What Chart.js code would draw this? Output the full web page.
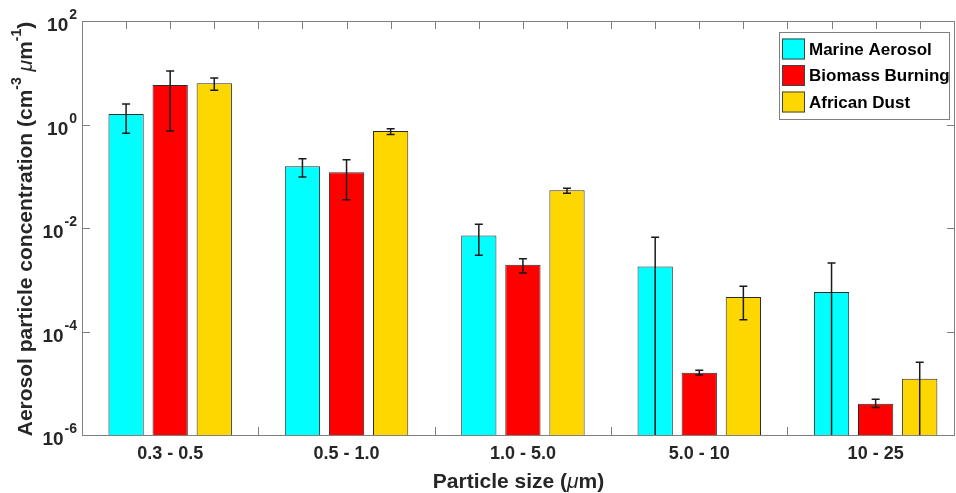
<!DOCTYPE html>
<html>
<head>
<meta charset="utf-8">
<script src="https://cdn.jsdelivr.net/npm/chart.js@4.4.1/dist/chart.umd.min.js"></script>
<style>
    body { margin: 0; background: #fff; }
    canvas { display: block; }
</style>
</head>
<body>
<canvas id="aerosolChart" width="956" height="493"></canvas>
<script>
// Categories and series
const categories = ["0.3 - 0.5", "0.5 - 1.0", "1.0 - 5.0", "5.0 - 10", "10 - 25"];
const seriesNames = ["Marine Aerosol", "Biomass Burning", "African Dust"];
const seriesColors = ["#00ffff", "#ff0000", "#ffd700"];

// Bar heights (cm^-3 um^-1)
const marine = [1.6, 0.156, 0.0072, 0.0018, 0.00058];
const biomass = [5.8, 0.119, 0.00195, 0.000016, 0.000004];
const dust = [6.3, 0.75, 0.0535, 0.000465, 0.0000122];

// Error bar ends (0 = runs off the bottom of the log axis)
const marineUpper = [2.49, 0.219, 0.0118, 0.0066, 0.0021];
const marineLower = [0.676, 0.097, 0.00296, 0, 0];
const biomassUpper = [10.8, 0.209, 0.00255, 0.0000178, 0.0000049];
const biomassLower = [0.75, 0.035, 0.00135, 0.0000145, 0.0000034];
const dustUpper = [7.9, 0.83, 0.0585, 0.00075, 0.0000254];
const dustLower = [4.6, 0.64, 0.047, 0.000169, 0];

// Axis ticks
const yTickPowers = [-6, -4, -2, 0, 2];
const yMin = 1e-6;
const yMax = 1e2;

// Each group has 3 bar slots and one empty slot
const slotsPerGroup = 4;
const xMax = 19.8;

const values = [marine, biomass, dust];
const uppers = [marineUpper, biomassUpper, dustUpper];
const lowers = [marineLower, biomassLower, dustLower];

const textColor = "#262626";
const axisColor = "#7f7f7f";
const fontName = "'Liberation Sans', Arial, sans-serif";

function slotData(vals, offset) {
    return vals.map((v, i) => ({ x: i * slotsPerGroup + offset, y: v }));
}

// Error bars
const errorBarPlugin = {
    id: "errorBars",
    afterDatasetsDraw(chart) {
        const ctx = chart.ctx;
        const yScale = chart.scales.y;
        const area = chart.chartArea;
        ctx.save();
        ctx.strokeStyle = "#1a1a1a";
        ctx.lineWidth = 1.5;
        values.forEach((vals, d) => {
            const meta = chart.getDatasetMeta(d);
            meta.data.forEach((bar, i) => {
                const x = bar.x;
                const yTop = yScale.getPixelForValue(uppers[d][i]);
                const low = lowers[d][i];
                const yBot = low > 0 ? yScale.getPixelForValue(low) : area.bottom;
                ctx.beginPath();
                ctx.moveTo(x, yTop);
                ctx.lineTo(x, yBot);
                ctx.moveTo(x - 4, yTop);
                ctx.lineTo(x + 4, yTop);
                if (low > 0) {
                    ctx.moveTo(x - 4, yBot);
                    ctx.lineTo(x + 4, yBot);
                }
                ctx.stroke();
            });
        });
        ctx.restore();
    },
};

// Axes box, inward ticks, labels, titles and legend (MATLAB look)
const axesPlugin = {
    id: "matlabAxes",
    beforeDatasetsDraw(chart) {
        const ctx = chart.ctx;
        const { left, right, top, bottom } = chart.chartArea;
        const xScale = chart.scales.x;
        const yScale = chart.scales.y;
        ctx.save();
        ctx.strokeStyle = axisColor;
        ctx.lineWidth = 1;
        ctx.beginPath();
        for (let s = 1; s < xMax; s++) {
            const x = Math.round(xScale.getPixelForValue(s)) + 0.5;
            ctx.moveTo(x, top);
            ctx.lineTo(x, top + 8);
            ctx.moveTo(x, bottom);
            ctx.lineTo(x, bottom - 8);
        }
        yTickPowers.forEach((p) => {
            const y = Math.round(yScale.getPixelForValue(Math.pow(10, p))) + 0.5;
            ctx.moveTo(left, y);
            ctx.lineTo(left + 8, y);
            ctx.moveTo(right, y);
            ctx.lineTo(right - 8, y);
        });
        ctx.stroke();
        ctx.restore();
    },
    afterDraw(chart) {
        const ctx = chart.ctx;
        const { left, right, top, bottom } = chart.chartArea;
        const xScale = chart.scales.x;
        const yScale = chart.scales.y;
        ctx.save();

        // box
        ctx.strokeStyle = axisColor;
        ctx.lineWidth = 1;
        ctx.strokeRect(Math.round(left) + 0.5, Math.round(top) + 0.5, Math.round(right - left) - 1, Math.round(bottom - top));

        ctx.fillStyle = textColor;

        // y tick labels 10^p
        yTickPowers.forEach((p) => {
            const y = yScale.getPixelForValue(Math.pow(10, p));
            const exp = String(p);
            ctx.font = "bold 14px " + fontName;
            const expW = ctx.measureText(exp).width;
            const xEnd = left - 5;
            ctx.textAlign = "right";
            ctx.textBaseline = "alphabetic";
            ctx.fillText(exp, xEnd, y - 2);
            ctx.font = "bold 19px " + fontName;
            ctx.fillText("10", xEnd - expW - 1, y + 10);
        });

        // x category labels
        ctx.font = "bold 18px " + fontName;
        ctx.textAlign = "center";
        ctx.textBaseline = "middle";
        categories.forEach((c, i) => {
            const x = xScale.getPixelForValue(i * slotsPerGroup + 2);
            ctx.fillText(c, x, bottom + 19);
        });

        // x title: Particle size (um)
        drawRich(ctx, [
            { t: "Particle size (", f: "bold 21px " + fontName },
            { t: "\u03bc", f: "italic 21px " + fontName },
            { t: "m)", f: "bold 21px " + fontName },
        ], (left + right) / 2, 482);

        // y title, rotated
        ctx.save();
        ctx.translate(26, (top + bottom) / 2 + 1);
        ctx.rotate(-Math.PI / 2);
        drawRich(ctx, [
            { t: "Aerosol particle concentration (cm", f: "bold 21px " + fontName },
            { t: "-3", f: "bold 14px " + fontName, dy: -9 },
            { t: " ", f: "bold 21px " + fontName },
            { t: "\u03bc", f: "italic 21px " + fontName },
            { t: "m", f: "bold 21px " + fontName },
            { t: "-1", f: "bold 14px " + fontName, dy: -9 },
            { t: ")", f: "bold 21px " + fontName },
        ], 0, 0);
        ctx.restore();

        // legend box
        const lx = 779, ly = 32, lw = 170, lh = 87;
        ctx.fillStyle = "#fff";
        ctx.fillRect(lx, ly, lw, lh);
        ctx.strokeStyle = axisColor;
        ctx.strokeRect(lx + 0.5, ly + 0.5, lw, lh);
        seriesNames.forEach((name, i) => {
            const rowY = ly + 17 + i * 26.5;
            ctx.fillStyle = seriesColors[i];
            ctx.fillRect(lx + 3, rowY - 10.5, 23, 21);
            ctx.strokeStyle = "#444";
            ctx.strokeRect(lx + 3.5, rowY - 10, 22, 20);
            ctx.fillStyle = "#000";
            ctx.font = "bold 17px " + fontName;
            ctx.textAlign = "left";
            ctx.textBaseline = "middle";
            ctx.fillText(name, lx + 30, rowY + 1);
        });

        ctx.restore();
    },
};

// Draws runs of text centred on (cx, cy)
function drawRich(ctx, parts, cx, cy) {
    let total = 0;
    parts.forEach((p) => {
        ctx.font = p.f;
        p.w = ctx.measureText(p.t).width;
        total += p.w;
    });
    let x = cx - total / 2;
    ctx.textAlign = "left";
    ctx.textBaseline = "middle";
    ctx.fillStyle = textColor;
    parts.forEach((p) => {
        ctx.font = p.f;
        ctx.fillText(p.t, x, cy + (p.dy || 0));
        x += p.w;
    });
}

const ctx = document.getElementById("aerosolChart").getContext("2d");
const aerosolChart = new Chart(ctx, {
    type: "bar",
    data: {
        datasets: values.map((vals, d) => ({
            label: seriesNames[d],
            data: slotData(vals, d + 1),
            backgroundColor: seriesColors[d],
            borderColor: "#2b2b2b",
            borderWidth: 1,
            grouped: false,
            barPercentage: 0.8,
            categoryPercentage: 1.0,
        })),
    },
    options: {
        responsive: false,
        animation: false,
        layout: {
            padding: { left: 82, top: 21, right: 1, bottom: 58 },
        },
        plugins: {
            legend: { display: false },
            tooltip: { enabled: false },
        },
        scales: {
            x: {
                type: "linear",
                min: 0,
                max: xMax,
                offset: false,
                display: false,
            },
            y: {
                type: "logarithmic",
                min: yMin,
                max: yMax,
                display: false,
            },
        },
    },
    plugins: [axesPlugin, errorBarPlugin],
});
</script>
</body>
</html>
